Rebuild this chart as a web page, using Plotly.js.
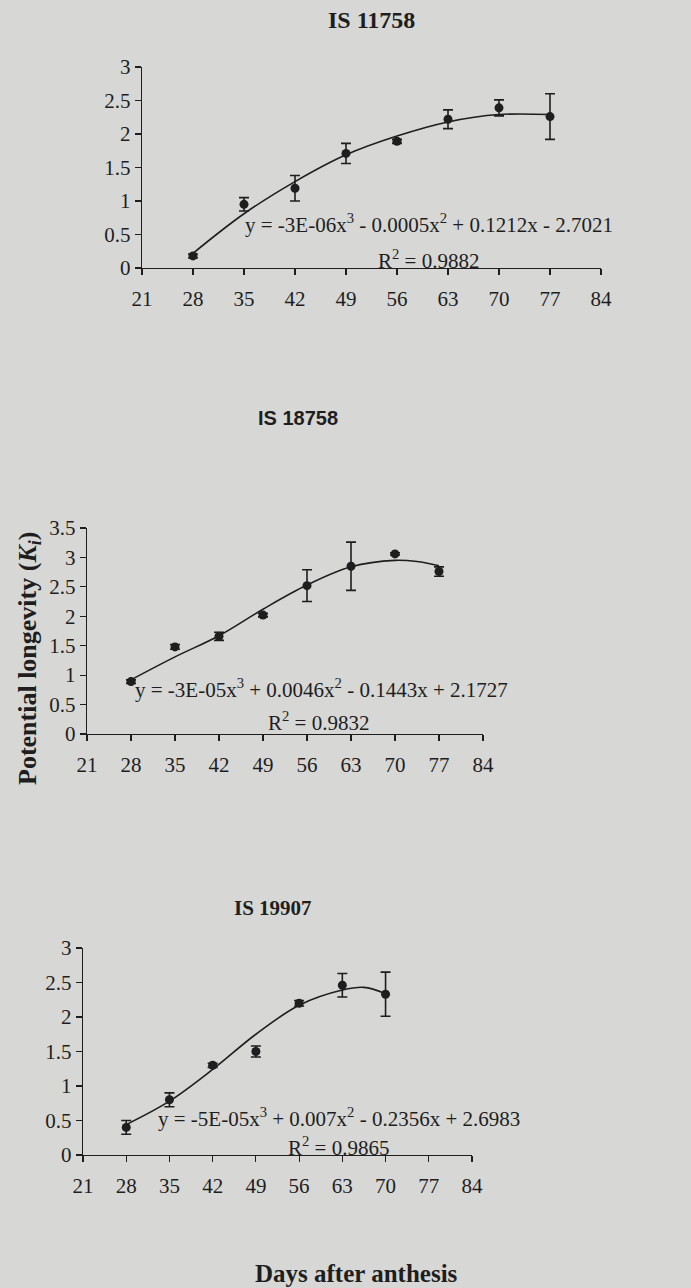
<!DOCTYPE html>
<html>
<head>
<meta charset="utf-8">
<script src="https://cdn.plot.ly/plotly-3.0.1.min.js"></script>
<style>
html,body{margin:0;padding:0;background:#d7d7d5;}
#chart{width:691px;height:1288px;}
</style>
</head>
<body>
<div id="chart"></div>
<script>
// ---- data ----
var xTicks = [21, 28, 35, 42, 49, 56, 63, 70, 77, 84];

// IS 11758
var days1 = [28, 35, 42, 49, 56, 63, 70, 77];
var ki1   = [0.18, 0.95, 1.19, 1.71, 1.89, 2.22, 2.39, 2.26];
var err1  = [0.03, 0.10, 0.19, 0.15, 0.03, 0.14, 0.12, 0.34];
var trendX1 = [28, 35, 42, 49, 56, 63, 70, 77];
var trendY1 = [0.22, 0.81, 1.29, 1.69, 1.97, 2.18, 2.29, 2.29];

// IS 18758
var days2 = [28, 35, 42, 49, 56, 63, 70, 77];
var ki2   = [0.89, 1.48, 1.66, 2.02, 2.52, 2.85, 3.06, 2.76];
var err2  = [0.03, 0.04, 0.07, 0.03, 0.27, 0.41, 0.02, 0.08];
var trendX2 = [28, 35, 42, 49, 56, 63, 70, 73.5, 77];
var trendY2 = [0.92, 1.31, 1.67, 2.12, 2.53, 2.84, 2.95, 2.93, 2.86];

// IS 19907
var days3 = [28, 35, 42, 49, 56, 63, 70];
var ki3   = [0.40, 0.80, 1.30, 1.50, 2.20, 2.46, 2.33];
var err3  = [0.10, 0.10, 0.03, 0.08, 0.04, 0.17, 0.32];
var trendX3 = [28, 35, 42, 49, 56, 63, 66.5, 70];
var trendY3 = [0.44, 0.78, 1.24, 1.75, 2.17, 2.39, 2.43, 2.34];

var titles = ["IS 11758", "IS 18758", "IS 19907"];
var equations = [
  "y = -3E-06x<sup>3</sup> - 0.0005x<sup>2</sup> + 0.1212x - 2.7021",
  "y = -3E-05x<sup>3</sup> + 0.0046x<sup>2</sup> - 0.1443x + 2.1727",
  "y = -5E-05x<sup>3</sup> + 0.007x<sup>2</sup> - 0.2356x + 2.6983"
];
var r2 = ["R<sup>2</sup> = 0.9882", "R<sup>2</sup> = 0.9832", "R<sup>2</sup> = 0.9865"];
var yTitle = "Potential longevity (<i>K</i><sub><i>i</i></sub>)";
var xTitle = "Days after anthesis";

// ---- layout helpers (pixel geometry) ----
var W = 691, H = 1288;
function px(x){ return x / W; }
function py(y){ return 1 - y / H; }

var serif = "Liberation Serif, Times New Roman, serif";
var sans = "Liberation Sans, Arial, sans-serif";
var ink = "#1e1e1e";

function mkTraces(days, ki, err, tx, ty, n){
  var xa = n === 1 ? "x" : "x" + n, ya = n === 1 ? "y" : "y" + n;
  return [
    {x: tx, y: ty, type: "scatter", mode: "lines", xaxis: xa, yaxis: ya,
     line: {color: ink, width: 1.6, shape: "spline", smoothing: 1.0}, hoverinfo: "skip"},
    {x: days, y: ki, type: "scatter", mode: "markers", xaxis: xa, yaxis: ya,
     marker: {color: ink, size: 9},
     error_y: {type: "data", array: err, visible: true, color: ink, thickness: 1.6, width: 5}}
  ];
}

var data = [].concat(
  mkTraces(days1, ki1, err1, trendX1, trendY1, 1),
  mkTraces(days2, ki2, err2, trendX2, trendY2, 2),
  mkTraces(days3, ki3, err3, trendX3, trendY3, 3)
);

function xaxis(left, right, anchor){
  return {domain: [px(left), px(right)], anchor: anchor, range: [21, 84],
    tickvals: xTicks, ticktext: xTicks.map(String), showgrid: false, zeroline: false,
    showline: true, linecolor: ink, linewidth: 1.4, ticks: "outside", ticklen: 6,
    tickcolor: ink, tickwidth: 1.2, ticklabelstandoff: 5,
    tickfont: {family: serif, size: 21, color: ink}, fixedrange: true};
}
function yaxis(top, bottom, anchor, maxv){
  var tv = []; for (var v = 0; v <= maxv + 1e-9; v += 0.5) tv.push(+v.toFixed(1));
  return {domain: [py(bottom), py(top)], anchor: anchor, range: [0, maxv],
    tickvals: tv, ticktext: tv.map(String), showgrid: false, zeroline: false,
    showline: true, linecolor: ink, linewidth: 1.4, ticks: "outside", ticklen: 6,
    tickcolor: ink, tickwidth: 1.2, tickfont: {family: serif, size: 21, color: ink}, fixedrange: true};
}

var ann = [];
function addText(t, x, y, font, size, extra){
  var a = {text: t, xref: "paper", yref: "paper", x: px(x), y: py(y), showarrow: false,
    xanchor: "center", yanchor: "middle", font: {family: font, size: size, color: ink}};
  for (var k in extra) a[k] = extra[k];
  ann.push(a);
}
addText("<b>" + titles[0] + "</b>", 372, 20, serif, 24);
addText("<b>" + titles[1] + "</b>", 298, 418, sans, 20);
addText("<b>" + titles[2] + "</b>", 273, 908, serif, 21);
addText(equations[0], 429, 223, serif, 21);
addText(r2[0], 428, 259, serif, 21);
addText(equations[1], 321, 688, serif, 21);
addText(r2[1], 318, 721, serif, 21);
addText(equations[2], 339, 1117, serif, 21);
addText(r2[2], 338, 1146, serif, 21);
addText("<b>" + yTitle + "</b>", 29, 658, serif, 26, {textangle: -90});
addText("<b>" + xTitle + "</b>", 357, 1273, serif, 25);

var layout = {
  width: W, height: H, margin: {l: 0, r: 0, t: 0, b: 0},
  paper_bgcolor: "#d7d7d5", plot_bgcolor: "rgba(0,0,0,0)", showlegend: false,
  xaxis: xaxis(142, 601, "y"),
  yaxis: yaxis(67, 268, "x", 3),
  xaxis2: xaxis(87, 483, "y2"),
  yaxis2: yaxis(528, 734, "x2", 3.5),
  xaxis3: xaxis(83, 472, "y3"),
  yaxis3: yaxis(948, 1155, "x3", 3),
  annotations: ann
};

Plotly.newPlot("chart", data, layout, {displayModeBar: false, staticPlot: true});
</script>
</body>
</html>
